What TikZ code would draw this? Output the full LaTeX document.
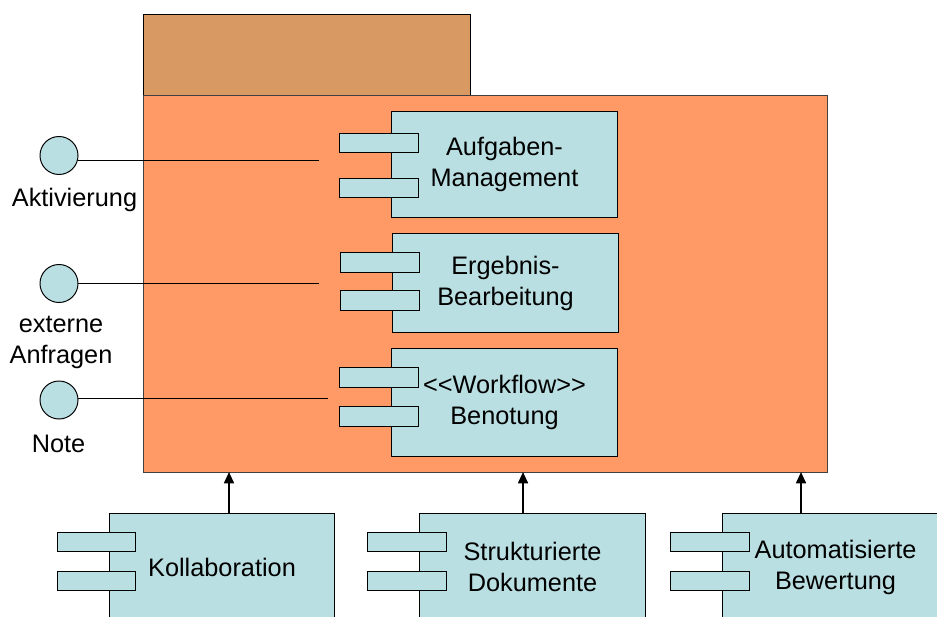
\documentclass[tikz,border=0pt]{standalone}
\usepackage{fontspec}
\setmainfont{Liberation Sans}
\usepackage{xcolor}
\usepackage{tikz}
\usetikzlibrary{calc,positioning,arrows.meta}

\definecolor{tabbrown}{HTML}{D89A62}
\definecolor{pkgorange}{HTML}{FF9966}
\definecolor{compblue}{HTML}{BADFE2}

\begin{document}
\begin{tikzpicture}[x=0.025cm, y=-0.025cm, line width=0.7pt, color=black,
		font=\fontsize{18}{22}\selectfont,
		comp/.style={draw, fill=compblue, inner sep=0pt, outer sep=0pt, minimum width=5.625cm, align=center},
		port/.style={draw, fill=compblue, inner sep=0pt, outer sep=0pt, minimum width=1.95cm, minimum height=0.475cm, anchor=north west},
		iface/.style={circle, draw, fill=compblue, inner sep=0pt, minimum size=0.95cm},
		dep/.style={-{Triangle[length=8pt,width=7pt]}, line width=1.4pt}]
		\useasboundingbox (0,0) rectangle (937,616);
		\clip (0,0) rectangle (937,616);
		
		% package with tab
		\draw[fill=tabbrown] (143,14) rectangle (470,95);
		\draw[fill=pkgorange, draw=black!75] (143,95) rectangle (827,472);
		\coordinate (t1) at (229,472);
		\coordinate (t2) at (523,472);
		\coordinate (t3) at (801,472);
		
		% inner components
		\node[comp, minimum height=2.65cm] (aufg) at (504.5,164.5) {Aufgaben-\\Management};
		\node[port] (aufgp1) at ($(aufg.north west)+(-52,22)$) {};
		\node[port] (aufgp2) at ($(aufg.north west)+(-52,67)$) {};
		
		\node[comp, minimum height=2.45cm] (erg) at (505.5,283) {Ergebnis-\\Bearbeitung};
		\node[port] (ergp1) at ($(erg.north west)+(-52,19)$) {};
		\node[port] (ergp2) at ($(erg.north west)+(-52,57)$) {};
		
		\node[comp, minimum height=2.675cm] (wf) at (504.5,402.5) {<{}<Workflow>{}>\\Benotung};
		\node[port] (wfp1) at ($(wf.north west)+(-52,19)$) {};
		\node[port] (wfp2) at ($(wf.north west)+(-52,58)$) {};
		
		% interfaces
		\node[iface] (akt) at (59,155.5) {};
		\node[anchor=base] (aktlbl) at (74.5,207) {Aktivierung};
		\coordinate (aktend) at (319,160);
		\draw (akt.east |- aktend) -- (aktend);
		
		\node[iface] (anf) at (59,283.5) {};
		\node[align=center] (anflbl) at (61,342) {externe\\Anfragen};
		\coordinate (anfend) at (319,283);
		\draw (anf.east |- anfend) -- (anfend);
		
		\node[iface] (note) at (59,400) {};
		\node[anchor=base] (notelbl) at (58.5,452) {Note};
		\coordinate (noteend) at (328,398);
		\draw (note.east |- noteend) -- (noteend);
		
		% outer components
		\node[comp, minimum height=2.7cm, anchor=north] (koll) at (222,513) {Kollaboration};
		\node[port] (kollp1) at ($(koll.north west)+(-52,19)$) {};
		\node[port] (kollp2) at ($(koll.north west)+(-52,58)$) {};
		
		\node[comp, minimum height=2.7cm, anchor=north] (dok) at (532.5,513) {Strukturierte\\Dokumente};
		\node[port] (dokp1) at ($(dok.north west)+(-52,19)$) {};
		\node[port] (dokp2) at ($(dok.north west)+(-52,58)$) {};
		
		\node[comp, minimum height=2.7cm, anchor=north] (bew) at (835.5,513) {Automatisierte\\Bewertung};
		\node[port] (bewp1) at ($(bew.north west)+(-52,19)$) {};
		\node[port] (bewp2) at ($(bew.north west)+(-52,58)$) {};
		
		\draw[dep] (koll.north -| t1) -- (t1);
		\draw[dep] (dok.north -| t2) -- (t2);
		\draw[dep] (bew.north -| t3) -- (t3);
	\end{tikzpicture}
\end{document}
